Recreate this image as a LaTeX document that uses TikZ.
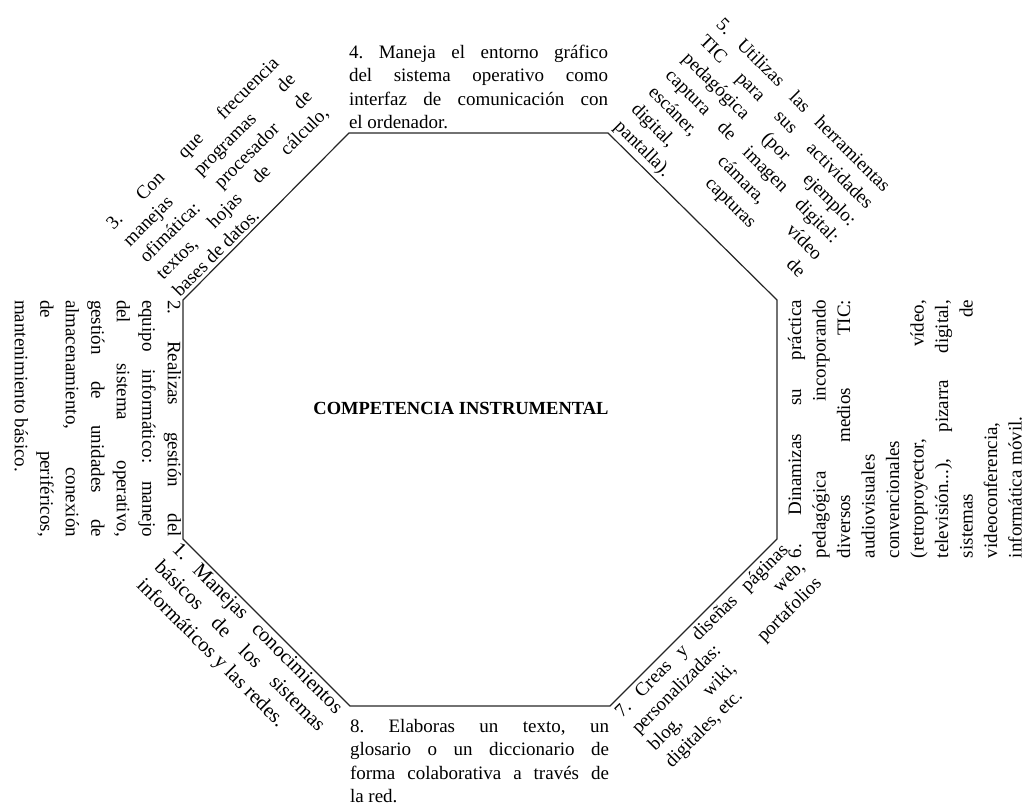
\documentclass[tikz,border=0pt]{standalone}
\usepackage{fontspec}
\setmainfont{Liberation Serif}
\frenchspacing
\newdimen\bw
% justified line and flush-left last line of a text block of width \bw
\newcommand{\jst}[1]{\makebox[\bw][s]{#1}}
\newcommand{\lft}[1]{\makebox[\bw][l]{#1}}
\begin{document}
\begin{tikzpicture}[x=1pt,y=-1pt,
  every node/.style={font=\fontsize{19}{23.5}\selectfont},
  edge/.style={line width=1.2pt,draw=black!85},
  blk/.style={inner sep=0pt,outer sep=0pt,align=left,
    execute at begin node={\global\bw=#1pt\relax}},
  title/.style={font=\fontsize{18.5}{23.5}\selectfont\bfseries,inner sep=0pt}]
\useasboundingbox (0,0) rectangle (1025,806);

% octagon corners
\coordinate (A) at (349,133);
\coordinate (B) at (608,133);
\coordinate (C) at (777,300);
\coordinate (D) at (777,539);
\coordinate (E) at (610,706);
\coordinate (F) at (350,706);
\coordinate (G) at (183,539);
\coordinate (H) at (183,300);
\draw[edge] (A)--(B)--(C)--(D)--(E)--(F)--(G)--(H)--cycle;

\node[title] (centre) at (461,408) {COMPETENCIA INSTRUMENTAL};

% 4: top edge
\node[blk=259,anchor=south west] (t4) at (349,129) {%
  \jst{4. Maneja el entorno gráfico}\\
  \jst{del sistema operativo como}\\
  \jst{interfaz de comunicación con}\\
  \lft{el ordenador.}};

% 3: upper left edge
\node[blk=235,anchor=south west,rotate=45] (t3) at (180.2,297.2) {%
  \jst{3. Con que frecuencia}\\
  \jst{manejas programas de}\\
  \jst{ofimática: procesador de}\\
  \jst{textos, hojas de cálculo,}\\
  \lft{bases de datos.}};

% 5: upper right edge
\node[blk=237,anchor=south west,rotate=-45,
  font=\fontsize{19}{24}\selectfont] (t5) at (610.8,130.2) {%
  \jst{5. Utilizas las herramientas}\\
  \jst{TIC para sus actividades}\\
  \jst{pedagógica (por ejemplo:}\\
  \jst{captura de imagen digital:}\\
  \jst{escáner, cámara, vídeo}\\
  \jst{digital, capturas de}\\
  \lft{pantalla).}};

% 2: left edge
\node[blk=237,anchor=north west,rotate=-90,
  font=\fontsize{19}{25.5}\selectfont] (t2) at (181,300) {%
  \jst{2. Realizas gestión del}\\
  \jst{equipo informático: manejo}\\
  \jst{del sistema operativo,}\\
  \jst{gestión de unidades de}\\
  \jst{almacenamiento, conexión}\\
  \jst{de periféricos,}\\
  \lft{mantenimiento básico.}};

% 6: right edge
\node[blk=258,anchor=north west,rotate=90,
  font=\fontsize{19}{24.5}\selectfont] (t6) at (788,558) {%
  \jst{6. Dinamizas su práctica}\\
  \jst{pedagógica incorporando}\\
  \jst{diversos medios TIC:}\\
  \lft{audiovisuales}\\
  \lft{convencionales}\\
  \jst{(retroproyector, vídeo,}\\
  \jst{televisión...), pizarra digital,}\\
  \jst{sistemas de}\\
  \lft{videoconferencia,}\\
  \lft{informática móvil.}};

% 1: lower left edge
\node[blk=232,anchor=north west,rotate=-45,
  font=\fontsize{20.5}{25}\selectfont] (t1) at (180.9,541.1) {%
  \jst{1. Manejas conocimientos}\\
  \jst{básicos de los sistemas}\\
  \lft{informáticos y las redes.}};

% 7: lower right edge
\node[blk=236,anchor=north west,rotate=45] (t7) at (612.8,708.8) {%
  \jst{7. Creas y diseñas páginas}\\
  \jst{personalizadas: web,}\\
  \jst{blog, wiki, portafolios}\\
  \lft{digitales, etc.}};

% 8: bottom edge
\node[blk=259,anchor=north west] (t8) at (350,719) {%
  \jst{8. Elaboras un texto, un}\\
  \jst{glosario o un diccionario de}\\
  \jst{forma colaborativa a través de}\\
  \lft{la red.}};
\end{tikzpicture}
\end{document}
